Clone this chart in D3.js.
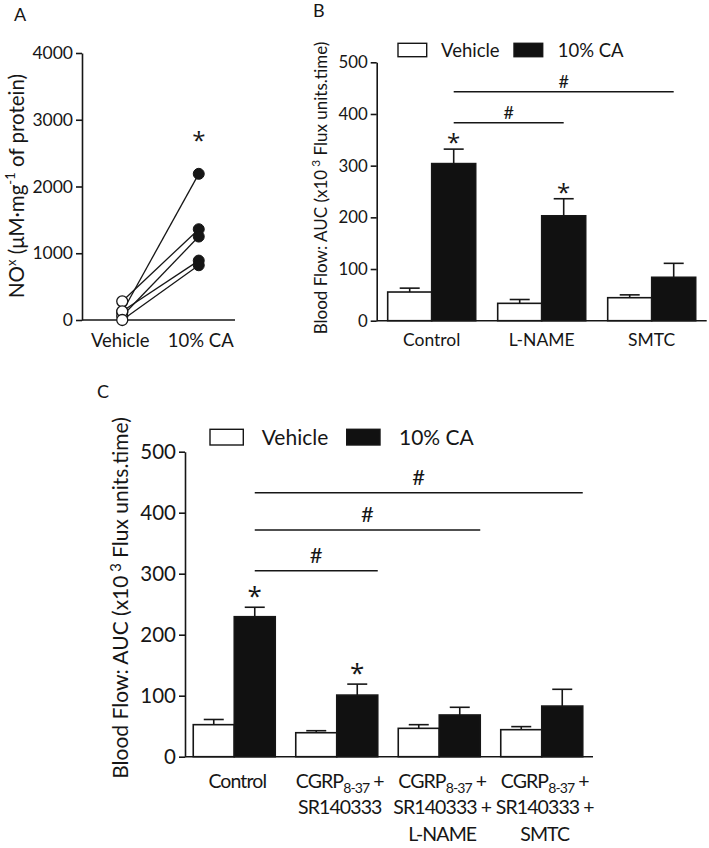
<!DOCTYPE html>
<html><head><meta charset="utf-8">
<script src="https://cdn.jsdelivr.net/npm/d3@7"></script>
<style>
body{margin:0;background:#fff}
svg{display:block}
text{font-family:Lato,"Open Sans",sans-serif;fill:#161616}
</style>
</head><body>
<svg id="chart" width="709" height="848"></svg>
<script>
// ---------- Panel A data ----------
const aGroups = ["Vehicle", "10% CA"];
const aVehicle = [120, 280, 60, 130, 0];
const aCA = [2190, 1360, 1250, 890, 820];
const aTicks = [0, 1000, 2000, 3000, 4000];
const aStarValue = 2770;

// ---------- Panel B data ----------
const bGroups = ["Control", "L-NAME", "SMTC"];
const bVehicle = [55.5, 33.6, 44.5];
const bVehicleErr = [7.5, 7.4, 5.5];
const bCA = [304, 203, 84];
const bCAErr = [28, 33, 27];
const bTicks = [0, 100, 200, 300, 400, 500];
const bStars = ["Control", "L-NAME"];
const bSig = [
  {from: "Control", to: "L-NAME", value: 383},
  {from: "Control", to: "SMTC", value: 443}
];

// ---------- Panel C data ----------
const cGroups = ["Control", "CGRP+SR", "CGRP+SR+L-NAME", "CGRP+SR+SMTC"];
const cLabels = [
  [["Control"]],
  [["CGRP", "8-37", " +"], ["SR140333"]],
  [["CGRP", "8-37", " +"], ["SR140333 +"], ["L-NAME"]],
  [["CGRP", "8-37", " +"], ["SR140333 +"], ["SMTC"]]
];
const cVehicle = [52.5, 39.3, 46.5, 44.3];
const cVehicleErr = [8.5, 3.3, 6, 5];
const cCA = [229.5, 101, 68.4, 83];
const cCAErr = [15.5, 18, 12.6, 27.5];
const cTicks = [0, 100, 200, 300, 400, 500];
const cStars = ["Control", "CGRP+SR"];
const cSig = [
  {from: "Control", to: "CGRP+SR", value: 305},
  {from: "Control", to: "CGRP+SR+L-NAME", value: 371.6},
  {from: "Control", to: "CGRP+SR+SMTC", value: 432.8}
];
const seriesNames = ["Vehicle", "10% CA"];

const svg = d3.select("#chart");
const INK = "#161616";
const STAR_FONT = "'Open Sans', sans-serif";

function styleAxis(g, fs) {
  g.select(".domain").attr("stroke", INK).attr("stroke-width", 1.6);
  g.selectAll(".tick line").attr("stroke", INK).attr("stroke-width", 1.6);
  g.selectAll(".tick text").attr("font-size", fs).attr("fill", INK)
    .style("font-family", "Lato, sans-serif");
}

// ================= Panel A =================
(function () {
  const g = svg.append("g");
  const y = d3.scaleLinear().domain([0, 4000]).range([320, 53]);
  const x = d3.scalePoint().domain(aGroups).range([84, 237]).padding(0.5);
  const ax = g.append("g").attr("transform", "translate(82,0)")
    .call(d3.axisLeft(y).tickValues(aTicks).tickFormat(d3.format("d"))
      .tickSize(6).tickSizeOuter(0).tickPadding(3));
  styleAxis(ax, 17.5);
  g.append("line").attr("x1", 82).attr("x2", 235).attr("y1", y(0)).attr("y2", y(0))
    .attr("stroke", INK).attr("stroke-width", 1.6);
  aGroups.forEach(k => {
    g.append("text").attr("x", x(k) + (k === "Vehicle" ? -2 : 2)).attr("y", y(0) + 27)
      .attr("text-anchor", "middle").attr("font-size", 18.5).text(k);
  });
  aVehicle.forEach((v, i) => {
    g.append("line").attr("x1", x("Vehicle")).attr("y1", y(v))
      .attr("x2", x("10% CA")).attr("y2", y(aCA[i]))
      .attr("stroke", INK).attr("stroke-width", 1.3);
  });
  g.selectAll("circle.veh").data(aVehicle).join("circle")
    .attr("cx", x("Vehicle")).attr("cy", d => y(d)).attr("r", 5.5)
    .attr("fill", "#fff").attr("stroke", INK).attr("stroke-width", 1.3);
  g.selectAll("circle.ca").data(aCA).join("circle")
    .attr("cx", x("10% CA")).attr("cy", d => y(d)).attr("r", 5.5)
    .attr("fill", INK).attr("stroke", INK).attr("stroke-width", 1);
  g.append("text").attr("x", x("10% CA")).attr("y", y(aStarValue) + 14)
    .attr("text-anchor", "middle").attr("font-size", 24)
    .style("font-family", STAR_FONT).text("*");
  const lab = g.append("text").attr("transform", "translate(24,186) rotate(-90)")
    .attr("text-anchor", "middle").attr("font-size", 20.5);
  lab.append("tspan").text("NO");
  lab.append("tspan").attr("dy", -8).attr("font-size", 13).text("x");
  lab.append("tspan").attr("dy", 8).text(" (μM·mg");
  lab.append("tspan").attr("dy", -9).attr("font-size", 13).text("-1");
  lab.append("tspan").attr("dy", 9).text(" of protein)");
  g.append("text").attr("x", 14).attr("y", 21).attr("font-size", 18).text("A");
})();

// ================= Bar panels =================
function barPanel(cfg) {
  const g = svg.append("g");
  const y = d3.scaleLinear().domain([0, 500]).range([cfg.y0, cfg.y500]);
  const x = d3.scaleBand().domain(cfg.groups).range(cfg.xRange)
    .paddingInner(cfg.padIn).paddingOuter(cfg.padOut);
  const xs = d3.scaleBand().domain(seriesNames).range([0, x.bandwidth()]);
  const ax = g.append("g").attr("transform", `translate(${cfg.axisX},0)`)
    .call(d3.axisLeft(y).tickValues(cfg.ticks).tickSize(6).tickSizeOuter(0).tickPadding(3));
  styleAxis(ax, cfg.tickFs);
  g.append("line").attr("x1", cfg.axisX).attr("x2", cfg.axisEnd)
    .attr("y1", y(0)).attr("y2", y(0)).attr("stroke", INK).attr("stroke-width", 1.6);

  const series = [
    {name: "Vehicle", vals: cfg.veh, errs: cfg.vehErr, fill: "#fff"},
    {name: "10% CA", vals: cfg.ca, errs: cfg.caErr, fill: "#111"}
  ];
  series.forEach(s => {
    cfg.groups.forEach((grp, i) => {
      const bx = x(grp) + xs(s.name);
      const cx = bx + xs.bandwidth() / 2;
      const top = y(s.vals[i] + s.errs[i]);
      g.append("line").attr("x1", cx).attr("x2", cx).attr("y1", y(s.vals[i])).attr("y2", top)
        .attr("stroke", INK).attr("stroke-width", 1.6);
      g.append("line").attr("x1", cx - cfg.cap / 2).attr("x2", cx + cfg.cap / 2)
        .attr("y1", top).attr("y2", top).attr("stroke", INK).attr("stroke-width", 1.6);
      g.append("rect").attr("x", bx).attr("width", xs.bandwidth())
        .attr("y", y(s.vals[i])).attr("height", y(0) - y(s.vals[i]))
        .attr("fill", s.fill).attr("stroke", INK).attr("stroke-width", 1.6);
    });
  });
  cfg.stars.forEach(grp => {
    const i = cfg.groups.indexOf(grp);
    const cx = x(grp) + xs("10% CA") + xs.bandwidth() / 2;
    g.append("text").attr("x", cx).attr("y", y(cfg.ca[i] + cfg.caErr[i]) + cfg.starDy)
      .attr("text-anchor", "middle").attr("font-size", cfg.starFs)
      .style("font-family", STAR_FONT).text("*");
  });
  cfg.sig.forEach(s => {
    const x1 = x(s.from) + xs("10% CA") + xs.bandwidth() / 2;
    const x2 = x(s.to) + xs("10% CA") + xs.bandwidth() * cfg.sigEnd;
    g.append("line").attr("x1", x1).attr("x2", x2).attr("y1", y(s.value)).attr("y2", y(s.value))
      .attr("stroke", INK).attr("stroke-width", 1.5);
    g.append("text").attr("x", (x1 + x2) / 2).attr("y", y(s.value) - cfg.hashDy)
      .attr("text-anchor", "middle").attr("font-size", cfg.hashFs).text("#");
  });
  cfg.groups.forEach((grp, i) => {
    const lines = cfg.labels[i];
    lines.forEach((parts, li) => {
      const t = g.append("text").attr("x", x(grp) + x.bandwidth() / 2 + cfg.labDx)
        .attr("y", y(0) + cfg.labDy + li * cfg.lineH)
        .attr("text-anchor", "middle").attr("font-size", cfg.labFs)
        .style("letter-spacing", cfg.labLs + "px").attr("xml:space", "preserve");
      if (parts.length === 3) {
        t.append("tspan").text(parts[0]);
        t.append("tspan").attr("dy", 5).attr("font-size", cfg.labFs * 0.72).text(parts[1]);
        t.append("tspan").attr("dy", -5).text(parts[2]);
      } else {
        t.text(parts[0]);
      }
    });
  });
  const L = cfg.legend;
  series.forEach((s, i) => {
    g.append("rect").attr("x", L.x[i]).attr("y", L.y).attr("width", L.w).attr("height", L.h)
      .attr("fill", s.fill).attr("stroke", INK).attr("stroke-width", 1.4);
    g.append("text").attr("x", L.tx[i]).attr("y", L.y + L.h).attr("font-size", L.fs).text(s.name);
  });
  const lab = g.append("text")
    .attr("transform", `translate(${cfg.ylab.x},${cfg.ylab.y}) rotate(-90)`)
    .attr("text-anchor", "middle").attr("font-size", cfg.ylab.fs);
  lab.append("tspan").text("Blood Flow: AUC (x10");
  lab.append("tspan").attr("dy", -7).attr("font-size", cfg.ylab.fs * 0.7).text(" 3");
  lab.append("tspan").attr("dy", 7).text(" Flux units.time)");
  g.append("text").attr("x", cfg.letter.x).attr("y", cfg.letter.y).attr("font-size", cfg.letter.fs)
    .text(cfg.letter.t);
}

barPanel({
  groups: bGroups, labels: bGroups.map(d => [[d]]),
  veh: bVehicle, vehErr: bVehicleErr, ca: bCA, caErr: bCAErr,
  ticks: bTicks, stars: bStars, sig: bSig,
  y0: 320.7, y500: 62.3, xRange: [376.7, 706.7], axisX: 376.7, axisEnd: 706.7,
  padIn: 0.2, padOut: 0.1,
  tickFs: 16.8, cap: 20, starDy: 2, starFs: 24, sigEnd: 0.5, hashDy: 4, hashFs: 18,
  labFs: 17.5, labLs: 0, labDx: 0, labDy: 25.5, lineH: 26,
  legend: {x: [398, 514], tx: [441, 557.7], y: 43.3, w: 28.7, h: 13.4, fs: 18.5},
  ylab: {x: 327, y: 188, fs: 17},
  letter: {x: 313, y: 17, fs: 18, t: "B"}
});

barPanel({
  groups: cGroups, labels: cLabels,
  veh: cVehicle, vehErr: cVehicleErr, ca: cCA, caErr: cCAErr,
  ticks: cTicks, stars: cStars, sig: cSig,
  y0: 756.7, y500: 451.7, xRange: [183, 593], axisX: 185, axisEnd: 593,
  padIn: 0.2, padOut: 0.1,
  tickFs: 20.5, cap: 20, starDy: -2, starFs: 26, sigEnd: 1.0, hashDy: 8, hashFs: 22,
  labFs: 19.5, labLs: -0.9, labDx: 3, labDy: 31, lineH: 26.5,
  legend: {x: [210, 346.7], tx: [261.7, 399], y: 429.3, w: 33.3, h: 15.7, fs: 21},
  ylab: {x: 128, y: 598, fs: 21},
  letter: {x: 97, y: 398, fs: 18, t: "C"}
});
</script>
</body></html>
